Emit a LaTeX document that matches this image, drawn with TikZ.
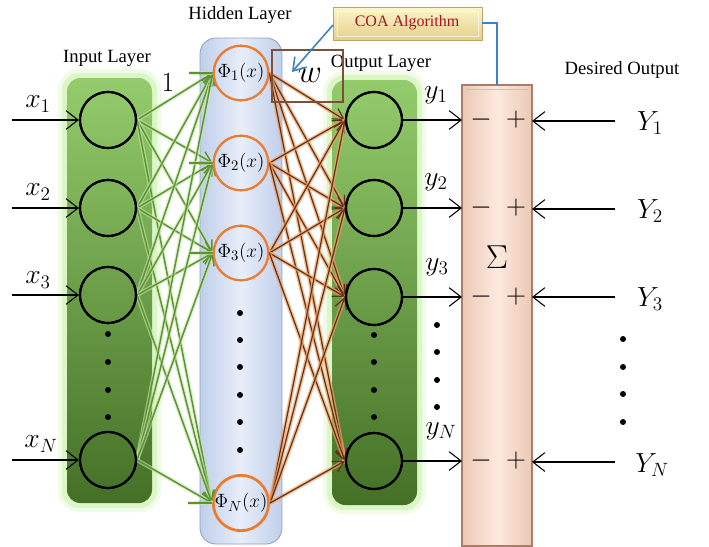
\documentclass[tikz,border=0pt]{standalone}
\usepackage{fontspec}
\setmainfont{Liberation Serif}
\usetikzlibrary{arrows.meta,calc}
\definecolor{gtop}{RGB}{148,204,108}
\definecolor{gbot}{RGB}{68,112,38}
\definecolor{gglow}{RGB}{205,242,178}
\definecolor{hid}{RGB}{232,238,250}
\definecolor{hidedge}{RGB}{192,207,234}
\definecolor{hidborder}{RGB}{140,160,198}
\definecolor{orng}{RGB}{235,125,50}
\definecolor{gline}{RGB}{95,145,55}
\definecolor{glineglow}{RGB}{195,232,165}
\definecolor{bline}{RGB}{95,50,25}
\definecolor{blineglow}{RGB}{240,160,100}
\definecolor{sumfill}{RGB}{252,234,222}
\definecolor{sumedge}{RGB}{236,200,182}
\definecolor{sumborder}{RGB}{170,125,105}
\definecolor{coafill}{RGB}{252,246,205}
\definecolor{coaedge}{RGB}{228,208,135}
\definecolor{coaborder}{RGB}{185,165,105}
\definecolor{coatext}{RGB}{170,20,30}
\definecolor{bluel}{RGB}{60,130,200}
\definecolor{wboxc}{RGB}{125,80,60}
\begin{document}
\begin{tikzpicture}[x=0.75pt,y=-0.75pt,
  inode/.style={circle,draw=black,line width=1.6pt,minimum size=42pt,inner sep=0pt},
  hnode/.style={circle,draw=orng,line width=1.5pt,minimum size=41pt,inner sep=0pt,font=\fontsize{15}{15}\selectfont},
  layerlbl/.style={font=\fontsize{14}{16}\selectfont,inner sep=0pt},
  mlbl/.style={font=\fontsize{22}{24}\selectfont,inner sep=0pt},
  sgn/.style={font=\fontsize{22}{22}\selectfont,inner sep=0pt},
  blk/.style={draw=black,line width=0.8pt,-{Straight Barb[length=9pt,width=14pt,line width=0.8pt]}},
  gconn/.style={draw=gline,line width=1.1pt,-{Straight Barb[length=8pt,width=9pt]},
     preaction={draw=glineglow,line width=3pt,opacity=0.6,-}},
  bconn/.style={draw=bline,line width=0.9pt,-{Straight Barb[length=8pt,width=9pt]},
     preaction={draw=blineglow,line width=3pt,opacity=0.7,-}},
  bias/.style={draw=gline,line width=1.3pt,preaction={draw=glineglow,line width=3pt,opacity=0.6}},
  dotc/.style={fill=black}
]
\useasboundingbox (0,0) rectangle (709,546);

% ---------- layer boxes ----------
\fill[gglow,opacity=0.3,rounded corners=16] (58,69) rectangle (161,512);
\fill[gglow,opacity=0.6,rounded corners=13] (62,73) rectangle (157,508);
\shade[top color=gtop,bottom color=gbot,rounded corners=10] (67,78) rectangle (152,503);

\fill[gglow,opacity=0.3,rounded corners=16] (323,71) rectangle (426,514);
\fill[gglow,opacity=0.6,rounded corners=13] (327,75) rectangle (422,510);
\shade[top color=gtop,bottom color=gbot,rounded corners=10] (332,80) rectangle (417,505);

\shade[left color=hidedge,right color=hidedge,middle color=hid,rounded corners=12] (200,38) rectangle (282,544);
\draw[hidborder,line width=0.6pt,rounded corners=12] (200,38) rectangle (282,544);

\shade[left color=sumedge,right color=sumedge,middle color=sumfill] (462,85) rectangle (532,546);
\draw[sumborder,line width=0.8pt] (462,85) rectangle (532,546);
\draw[sumborder!50,line width=0.5pt] (466,89) -- (528,89);

% ---------- labels ----------
\node[layerlbl] (linput) at (107,58) {Input Layer};
\node[layerlbl] (lhidden) at (240,15) {Hidden Layer};
\node[layerlbl] (loutput) at (381,63) {Output Layer};
\node[layerlbl] (ldes) at (622,70) {Desired Output};

% ---------- nodes ----------
\node[inode] (in1) at (108,120) {};
\node[inode] (in2) at (108,208) {};
\node[inode] (in3) at (108,295) {};
\node[inode] (inN) at (108,460) {};

\node[hnode] (h1) at (241,73) {$\Phi_1(x)$};
\node[hnode] (h2) at (241,163) {$\Phi_2(x)$};
\node[hnode] (h3) at (241,253) {$\Phi_3(x)$};
\node[hnode] (hN) at (241,503) {$\Phi_N(x)$};

\node[inode] (o1) at (374,120) {};
\node[inode] (o2) at (374,208) {};
\node[inode] (o3) at (374,297) {};
\node[inode] (oN) at (374,461) {};

% ---------- green connections ----------
\foreach \i in {in1,in2,in3,inN}{
  \foreach \h in {h1,h2,h3,hN}{
    \draw[gconn] (\i.east) -- (\h.west);
  }
}
\foreach \h in {h1,h2,h3,hN}{
  \coordinate (b\h) at ($(\h.west)+(-24,0)$);
  \draw[bias] (b\h) -- (\h.west);
}
\node[mlbl] (one) at (168,83) {$1$};

% ---------- brown connections ----------
\foreach \h in {h1,h2,h3,hN}{
  \foreach \o in {o1,o2,o3,oN}{
    \draw[bconn] (\h.east) -- (\o.west);
  }
}

% redraw circles on top
\foreach \n in {in1,in2,in3,inN,o1,o2,o3,oN}{
  \draw[black,line width=1.6pt] (\n) circle (28);
}
\foreach \n in {h1,h2,h3,hN}{
  \draw[orng,line width=1.5pt] (\n) circle (27.3);
}

% ---------- dots ----------
\foreach \y in {334,362,390,417}{ \fill[dotc] (108,\y) circle (3); }
\foreach \y in {313,340,367,395,422,450}{ \fill[dotc] (240,\y) circle (3); }
\foreach \y in {335,362,390,417}{ \fill[dotc] (374,\y) circle (3); }
\foreach \y in {325,352,380,407}{ \fill[dotc] (437,\y) circle (3); }
\foreach \y in {339,367,394,422}{ \fill[dotc] (623,\y) circle (3); }

% ---------- inputs ----------
\coordinate (xs1) at (12,120);
\coordinate (xs2) at (12,208);
\coordinate (xs3) at (12,295);
\coordinate (xsN) at (12,460);
\draw[blk] (xs1) -- (in1.west);
\draw[blk] (xs2) -- (in2.west);
\draw[blk] (xs3) -- (in3.west);
\draw[blk] (xsN) -- (inN.west);
\node[mlbl] (lx1) at (38,104) {$x_1$};
\node[mlbl] (lx2) at (38,192) {$x_2$};
\node[mlbl] (lx3) at (38,280) {$x_3$};
\node[mlbl] (lxN) at (41,444) {$x_N$};

% ---------- outputs to sum ----------
\coordinate (s1) at (462,120);
\coordinate (s2) at (462,208);
\coordinate (s3) at (462,297);
\coordinate (sN) at (462,461);
\draw[blk] (o1.east) -- (s1);
\draw[blk] (o2.east) -- (s2);
\draw[blk] (o3.east) -- (s3);
\draw[blk] (oN.east) -- (sN);
\node[mlbl] (ly1) at (436,95) {$y_1$};
\node[mlbl] (ly2) at (436,182) {$y_2$};
\node[mlbl] (ly3) at (437,267) {$y_3$};
\node[mlbl] (lyN) at (441,431) {$y_N$};

% ---------- sum ----------
\node[font=\fontsize{44}{44}\selectfont,inner sep=0pt] (sigma) at (497,257) {$\Sigma$};
\foreach \y/\n in {120/1,208/2,297/3,461/N}{
  \node[sgn] (m\n) at (481,\y) {$-$};
  \node[sgn] (p\n) at (516,\y) {$+$};
}

% ---------- desired outputs ----------
\coordinate (d1) at (615,121);
\coordinate (d2) at (615,209);
\coordinate (d3) at (615,297);
\coordinate (dN) at (615,462);
\coordinate (e1) at (532,121);
\coordinate (e2) at (532,209);
\coordinate (e3) at (532,297);
\coordinate (eN) at (532,462);
\draw[blk] (d1) -- (e1);
\draw[blk] (d2) -- (e2);
\draw[blk] (d3) -- (e3);
\draw[blk] (dN) -- (eN);
\node[mlbl] (lY1) at (650,123) {$Y_1$};
\node[mlbl] (lY2) at (650,211) {$Y_2$};
\node[mlbl] (lY3) at (650,299) {$Y_3$};
\node[mlbl] (lYN) at (652,465) {$Y_N$};

% ---------- w box & COA ----------
\draw[wboxc,line width=1.8pt] (272,50) rectangle (343,102);
\node[font=\fontsize{24}{24}\selectfont,inner sep=0pt] (w) at (310,75) {$w$};

\shade[top color=coafill,bottom color=coaedge] (333,7) rectangle (482,40);
\draw[coaborder,line width=0.7pt] (333,7) rectangle (482,40);
\draw[white,opacity=0.7,line width=0.6pt] (337,11) rectangle (478,36);
\node[font=\fontsize{12}{14}\selectfont,text=coatext,inner sep=0pt] (coa) at (407,23) {COA Algorithm};

\coordinate (coaR) at (482,23);
\coordinate (sumTop) at (497,85);
\draw[bluel,line width=1.2pt] (coaR) -| (sumTop);
\coordinate (coaL) at (333,25);
\coordinate (wtip) at (292,72);
\draw[bluel,line width=1.2pt,-{Straight Barb[length=9pt,width=12pt]}] (coaL) -- (wtip);
\end{tikzpicture}
\end{document}
